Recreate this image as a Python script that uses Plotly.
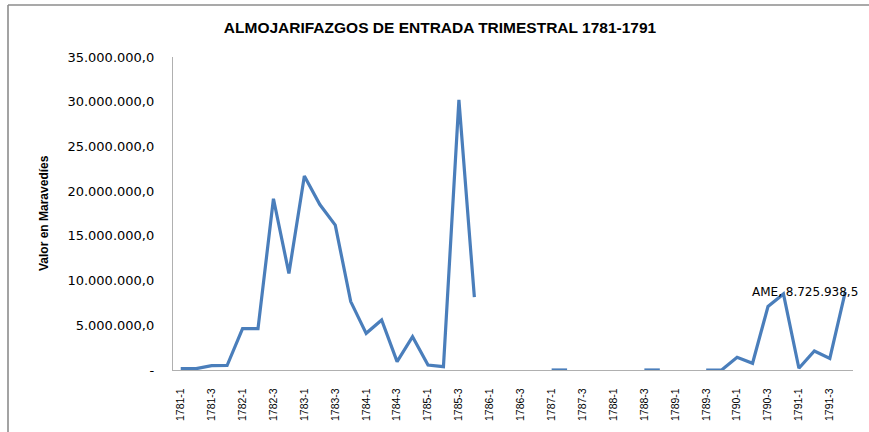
import plotly.graph_objects as go

years = list(range(1781, 1792))
quarters = [f"{y}-{q}" for y in years for q in range(1, 5)]

values = [
    150000, 150000, 480000, 500000, 4630000, 4630000, 19150000, 10800000,
    21700000, 18500000, 16200000, 7650000, 4100000, 5600000, 930000, 3730000,
    560000, 370000, 30200000, 8140000,
    None, None, None, None, 0, 0, None, None,
    None, None, 0, 0, None, None, 0, 0,
    1420000, 750000, 7100000, 8500000, 200000, 2130000, 1300000, 8725938.5,
]

tick_labels = quarters[::2]
y_ticks = [0, 5e6, 10e6, 15e6, 20e6, 25e6, 30e6, 35e6]
y_ticktext = ["-", "5.000.000,0", "10.000.000,0", "15.000.000,0", "20.000.000,0",
              "25.000.000,0", "30.000.000,0", "35.000.000,0"]
series_name = "AME"
label_text = "AME, 8.725.938,5"

fig = go.Figure()
fig.add_trace(go.Scatter(
    x=quarters, y=values, mode="lines", name=series_name,
    line=dict(color="#4A7EBB", width=3.2), connectgaps=False,
))

W, H = 869, 432
L, R, T, B = 173, 16, 57, 62

fig.update_layout(
    width=W, height=H,
    margin=dict(l=L, r=R, t=T, b=B),
    paper_bgcolor="white", plot_bgcolor="white",
    showlegend=False,
    title=dict(text="<b>ALMOJARIFAZGOS DE ENTRADA TRIMESTRAL 1781-1791</b>",
               x=440 / W, xanchor="center", y=1 - 28 / H, yanchor="middle",
               xref="container", yref="container",
               font=dict(family="Liberation Sans", size=15.5, color="black")),
    font=dict(family="DejaVu Sans", color="black"),
)

fig.update_xaxes(
    type="category", categoryorder="array", categoryarray=quarters,
    range=[-0.5, len(quarters) - 0.5],
    tickmode="array", tickvals=tick_labels, ticktext=tick_labels,
    tickangle=-90, tickfont=dict(family="Liberation Sans", size=10.5, color="black"),
    showline=True, linecolor="#B0B0B0", linewidth=1.3,
    showgrid=False, zeroline=False, ticks="", ticklabelstandoff=13,
)
fig.update_yaxes(
    range=[0, 35e6], tickmode="array", tickvals=y_ticks, ticktext=y_ticktext,
    tickfont=dict(family="DejaVu Sans", size=13, color="black"),
    showline=True, linecolor="#B0B0B0", linewidth=1.3,
    showgrid=False, zeroline=False, ticks="", ticklabelstandoff=15,
)

fig.add_annotation(
    text="<b>Valor en Maravedíes</b>", textangle=-90,
    xref="paper", yref="paper", x=(44 - L) / (W - L - R), y=(H - B - 213) / (H - T - B),
    xanchor="center", yanchor="middle", showarrow=False,
    font=dict(family="Liberation Sans", size=12, color="black"),
)

fig.add_annotation(
    text=label_text, x=quarters[-1], y=values[-1],
    xref="x", yref="y", xanchor="left", yanchor="middle",
    xshift=750 - 845, yshift=0, showarrow=False,
    font=dict(family="DejaVu Sans", size=12, color="black"),
)

# chart border (top and left edges visible)
fig.add_shape(type="line", xref="paper", yref="paper",
              x0=(8 - L) / (W - L - R), x1=(W + 5 - L) / (W - L - R),
              y0=(H - B - 5) / (H - T - B), y1=(H - B - 5) / (H - T - B),
              line=dict(color="#8C8C8C", width=1.6))
fig.add_shape(type="line", xref="paper", yref="paper",
              x0=(8 - L) / (W - L - R), x1=(8 - L) / (W - L - R),
              y0=(H - B - 5) / (H - T - B), y1=(H - B - H - 5) / (H - T - B),
              line=dict(color="#8C8C8C", width=1.6))

fig.write_html("out.html", config={"displayModeBar": False},
               post_script="document.body.style.margin='0';")
